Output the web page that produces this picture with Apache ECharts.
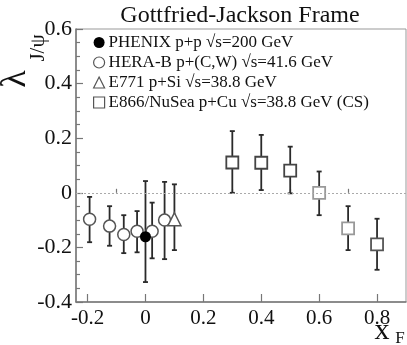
<!DOCTYPE html>
<html>
<head>
<meta charset="utf-8">
<script src="https://cdn.jsdelivr.net/npm/echarts@6/dist/echarts.min.js"></script>
<style>html,body{margin:0;padding:0;background:#fff;}#c{width:407px;height:345px;}</style>
</head>
<body>
<div id="c"></div>
<script>
// ---- data ----
const phenixX = [0.0];
const phenixY = [-0.161];
const phenixLo = [-0.327];
const phenixHi = [0.043];

const heraX = [-0.193, -0.124, -0.075, -0.029, 0.023, 0.066];
const heraY = [-0.097, -0.122, -0.153, -0.141, -0.141, -0.100];
const heraLo = [-0.181, -0.194, -0.221, -0.218, -0.240, -0.243];
const heraHi = [-0.015, -0.049, -0.082, -0.067, -0.036, 0.040];

const e771X = [0.1];
const e771Y = [-0.097];
const e771Lo = [-0.210];
const e771Hi = [0.031];

const e866X = [0.3, 0.4, 0.5, 0.6, 0.7, 0.8];
const e866Y = [0.111, 0.110, 0.081, 0.0, -0.130, -0.189];
const e866Lo = [0.0, 0.010, -0.002, -0.082, -0.210, -0.282];
const e866Hi = [0.226, 0.212, 0.169, 0.078, -0.049, -0.095];

const xTicks = [-0.2, 0, 0.2, 0.4, 0.6, 0.8];
const xMinorTicks = [-0.1, 0.1, 0.3, 0.5, 0.7];
const seriesNames = ['PHENIX p+p \u221As=200 GeV', 'HERA-B p+(C,W) \u221As=41.6 GeV', 'E771 p+Si \u221As=38.8 GeV', 'E866/NuSea p+Cu \u221As=38.8 GeV (CS)'];

// styles (kept separate from data)
const e866Shades = ['#444', '#444', '#444', '#999', '#999', '#555'];
const FAM = 'Liberation Serif';

function pts(xs, ys) { return xs.map((x, i) => [x, ys[i]]); }
function bars(xs, lo, hi) { return xs.map((x, i) => [x, lo[i], hi[i]]); }
function fmt(v) { return Math.abs(v) < 1e-9 ? '0' : String(Math.round(v * 10) / 10); }

function errRender(params, api) {
  const x = api.value(0);
  const pLo = api.coord([x, api.value(1)]);
  const pHi = api.coord([x, api.value(2)]);
  const st = { stroke: '#2a2a2a', lineWidth: 1.8 };
  const cap = 2.5;
  return {
    type: 'group',
    children: [
      { type: 'line', shape: { x1: pLo[0], y1: pLo[1], x2: pHi[0], y2: pHi[1] }, style: st },
      { type: 'line', shape: { x1: pLo[0] - cap, y1: pLo[1], x2: pLo[0] + cap, y2: pLo[1] }, style: st },
      { type: 'line', shape: { x1: pHi[0] - cap, y1: pHi[1], x2: pHi[0] + cap, y2: pHi[1] }, style: st }
    ]
  };
}
function errSeries(data) {
  return { type: 'custom', renderItem: errRender, data: data, z: 2, silent: true,
    encode: { x: 0, y: [1, 2] } };
}

const chart = echarts.init(document.getElementById('c'), null, { renderer: 'canvas' });
const option = {
  animation: false,
  backgroundColor: '#fff',
  grid: { left: 76, right: 1, top: 29, bottom: 43, show: true, borderColor: '#999', borderWidth: 1 },
  xAxis: [{
    type: 'value', min: -0.24, max: 0.9,
    axisLine: { onZero: false, lineStyle: { color: '#777', width: 1.5 } },
    axisTick: { inside: true, length: 8, customValues: xTicks, lineStyle: { color: '#777', width: 1.2 } },
    axisLabel: { customValues: xTicks, margin: 6, color: '#111', fontFamily: FAM, fontSize: 21, formatter: fmt },
    splitLine: { show: false }
  }, {
    type: 'value', min: -0.24, max: 0.9, position: 'bottom',
    axisLine: { show: false },
    axisTick: { inside: true, length: 4, customValues: xMinorTicks, lineStyle: { color: '#777', width: 1.2 } },
    axisLabel: { show: false },
    splitLine: { show: false }
  }],
  yAxis: {
    type: 'value', min: -0.4, max: 0.6, interval: 0.2,
    axisLine: { onZero: false, lineStyle: { color: '#777', width: 1.5 } },
    axisTick: { inside: true, length: 7, lineStyle: { color: '#777', width: 1.2 } },
    minorTick: { show: true, splitNumber: 4, length: 4, lineStyle: { color: '#777', width: 1.2 } },
    axisLabel: { margin: 4, color: '#111', fontFamily: FAM, fontSize: 22, formatter: fmt },
    splitLine: { show: false }
  },
  legend: {
    orient: 'vertical', left: 88, top: 29, itemWidth: 11, itemHeight: 11, itemGap: 3,
    textStyle: { fontFamily: FAM, fontSize: 17, color: '#111', padding: [0, 0, 0, -1] },
    data: [
      { name: seriesNames[0], icon: 'circle', itemStyle: { color: '#000', borderWidth: 0 } },
      { name: seriesNames[1], icon: 'circle', itemStyle: { color: '#fff', borderColor: '#555', borderWidth: 1.2 } },
      { name: seriesNames[2], icon: 'triangle', itemStyle: { color: '#fff', borderColor: '#555', borderWidth: 1.2 } },
      { name: seriesNames[3], icon: 'rect', itemStyle: { color: '#fff', borderColor: '#555', borderWidth: 1.2 } }
    ]
  },
  series: [
    Object.assign(errSeries(bars(heraX, heraLo, heraHi)), { name: seriesNames[1],
      markLine: { silent: true, symbol: 'none', label: { show: false },
        lineStyle: { color: '#aaa', type: [2, 2], width: 1 }, data: [{ yAxis: 0 }] } }),
    Object.assign(errSeries(bars(phenixX, phenixLo, phenixHi)), { name: seriesNames[0] }),
    Object.assign(errSeries(bars(e771X, e771Lo, e771Hi)), { name: seriesNames[2] }),
    Object.assign(errSeries(bars(e866X, e866Lo, e866Hi)), { name: seriesNames[3] }),
    { name: seriesNames[1], type: 'scatter', z: 4, symbol: 'circle', symbolSize: 12,
      itemStyle: { color: '#fff', borderColor: '#555', borderWidth: 1.5, opacity: 1 },
      data: pts(heraX, heraY) },
    { name: seriesNames[0], type: 'scatter', z: 5, symbol: 'circle', symbolSize: 11,
      itemStyle: { color: '#000', opacity: 1 }, data: pts(phenixX, phenixY) },
    { name: seriesNames[2], type: 'scatter', z: 4, symbol: 'triangle', symbolSize: 13,
      itemStyle: { color: '#fff', borderColor: '#555', borderWidth: 1.5, opacity: 1 },
      data: pts(e771X, e771Y) },
    { name: seriesNames[3], type: 'scatter', z: 4, symbol: 'rect', symbolSize: 12,
      itemStyle: { color: '#fff', borderColor: '#444', borderWidth: 1.8, opacity: 1 },
      data: pts(e866X, e866Y).map((p, i) => ({ value: p, itemStyle: { borderColor: e866Shades[i] } })) }
  ],
  graphic: [
    { type: 'text', x: 240, y: 16, style: { text: 'Gottfried-Jackson Frame', fontFamily: FAM, fontSize: 24, fill: '#111', align: 'center', verticalAlign: 'middle' } },
    { type: 'text', x: 16, y: 79, rotation: Math.PI / 2, style: { text: '\u03BB', fontFamily: FAM, fontSize: 36, fill: '#111', align: 'center', verticalAlign: 'middle' } },
    { type: 'text', x: 38, y: 48, rotation: Math.PI / 2, style: { text: 'J/\u03C8', fontFamily: FAM, fontSize: 21, fill: '#111', align: 'center', verticalAlign: 'middle' } },
    { type: 'text', x: 382, y: 331, style: { text: 'x', fontFamily: FAM, fontSize: 30, fill: '#111', align: 'center', verticalAlign: 'middle' } },
    { type: 'text', x: 400, y: 339, style: { text: 'F', fontFamily: FAM, fontSize: 17, fill: '#111', align: 'center', verticalAlign: 'middle' } }
  ]
};
chart.setOption(option);
</script>
</body>
</html>
